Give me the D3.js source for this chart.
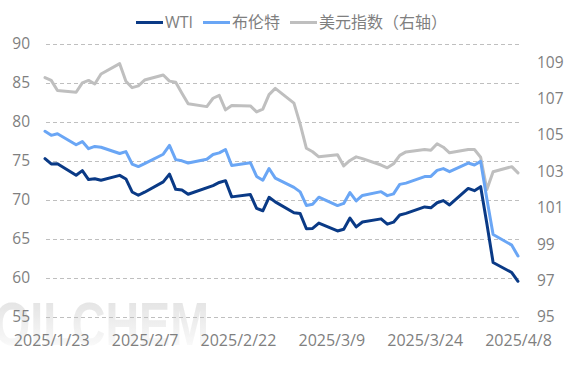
<!DOCTYPE html>
<html>
<head>
<meta charset="utf-8">
<script src="https://cdn.jsdelivr.net/npm/d3@7"></script>
<style>
    body { margin: 0; background: #fff; }
    svg { display: block; }
    text { font-family: "Open Sans", "Noto Sans CJK SC", sans-serif; }
</style>
</head>
<body>
<div id="chart"></div>
<script>
// Trading days shown on the chart
var dates = [
    "2025-01-22", "2025-01-23", "2025-01-24", "2025-01-27", "2025-01-28", "2025-01-29", "2025-01-30", "2025-01-31",
    "2025-02-03", "2025-02-04", "2025-02-05", "2025-02-06", "2025-02-07", "2025-02-10", "2025-02-11", "2025-02-12",
    "2025-02-13", "2025-02-14", "2025-02-17", "2025-02-18", "2025-02-19", "2025-02-20", "2025-02-21", "2025-02-24",
    "2025-02-25", "2025-02-26", "2025-02-27", "2025-02-28",
    "2025-03-03", "2025-03-04", "2025-03-05", "2025-03-06", "2025-03-07", "2025-03-10", "2025-03-11", "2025-03-12",
    "2025-03-13", "2025-03-14", "2025-03-17", "2025-03-18", "2025-03-19", "2025-03-20", "2025-03-21", "2025-03-24",
    "2025-03-25", "2025-03-26", "2025-03-27", "2025-03-28", "2025-03-31",
    "2025-04-01", "2025-04-02", "2025-04-03", "2025-04-04", "2025-04-07", "2025-04-08"
];

// WTI (left axis), null = no settlement that day
var wti = [
    75.3, 74.62, 74.66, 73.17, 73.77, 72.62, 72.73, 72.53,
    73.16, 72.70, 71.03, 70.61, 71.00, 72.32, 73.32, 71.37,
    71.29, 70.74, null, 71.85, 72.25, 72.48, 70.40, 70.70,
    68.93, 68.62, 70.35, 69.76,
    68.37, 68.26, 66.31, 66.36, 67.04, 66.03, 66.25, 67.68,
    66.55, 67.18, 67.58, 66.90, 67.16, 68.07, 68.28, 69.11,
    69.00, 69.65, 69.92, 69.36, 71.48,
    71.20, 71.71, 66.95, 61.99, 60.70, 59.58
];

// Brent (left axis)
var brent = [
    78.8, 78.29, 78.50, 77.08, 77.49, 76.58, 76.87, 76.76,
    75.96, 76.20, 74.61, 74.29, 74.66, 75.87, 77.00, 75.18,
    75.02, 74.74, 75.22, 75.84, 76.04, 76.48, 74.43, 74.78,
    73.02, 72.53, 74.04, 72.81,
    71.62, 71.04, 69.30, 69.46, 70.36, 69.28, 69.56, 70.95,
    69.88, 70.58, 71.07, 70.56, 70.78, 72.00, 72.16, 73.00,
    73.02, 73.79, 74.03, 73.63, 74.74,
    74.49, 74.95, 70.14, 65.58, 64.21, 62.82
];

// Dollar index (right axis)
var dxy = [
    108.15, 108.0, 107.44, 107.35, 107.86, 108.0, 107.8, 108.35,
    108.92, 107.95, 107.6, 107.7, 108.02, 108.3, 107.96, 107.9,
    107.3, 106.72, 106.56, 107.02, 107.18, 106.38, 106.62, 106.6,
    106.27, 106.42, 107.22, 107.56,
    106.75, 105.6, 104.27, 104.08, 103.8, 103.92, 103.3, 103.6,
    103.8, 103.7, 103.35, 103.2, 103.42, 103.88, 104.07, 104.2,
    104.16, 104.52, 104.33, 104.02, 104.2,
    104.2, 103.78, 102.0, 102.98, 103.26, 102.92
];

var xTickDates = ["2025-01-23", "2025-02-07", "2025-02-22", "2025-03-09", "2025-03-24", "2025-04-08"];
var leftTicks = [55, 60, 65, 70, 75, 80, 85, 90];
var rightTicks = [95, 97, 99, 101, 103, 105, 107, 109];
var seriesNames = ["WTI", "布伦特", "美元指数（右轴）"];

var width = 567, height = 378;
var plotLeft = 46, plotRight = 520, plotTop = 44, plotBottom = 317;
var textColor = "#7f7f7f";
var colors = ["#0a3a86", "#6aa6f5", "#bfbfbf"];

var parseDate = d3.timeParse("%Y-%m-%d");
var dateObjs = dates.map(parseDate);

var svg = d3.select("#chart").append("svg")
    .attr("width", width)
    .attr("height", height);

// Watermark in the lower left corner
var defs = svg.append("defs");
var grad = defs.append("linearGradient")
    .attr("id", "wmGrad")
    .attr("x1", 0).attr("y1", 0).attr("x2", 0).attr("y2", 1);
grad.append("stop").attr("offset", "0%").attr("stop-color", "#d4d4d4");
grad.append("stop").attr("offset", "100%").attr("stop-color", "#ffffff");

svg.append("text")
    .attr("x", -6)
    .attr("y", 345)
    .attr("font-size", 62)
    .attr("font-weight", "bold")
    .attr("textLength", 215)
    .attr("lengthAdjust", "spacingAndGlyphs")
    .attr("fill", "url(#wmGrad)")
    .attr("opacity", 0.75)
    .style("font-family", "'Liberation Sans', Arial, sans-serif")
    .text("OILCHEM");

// Scales
var x = d3.scaleTime()
    .domain([parseDate("2025-01-22"), parseDate("2025-04-08")])
    .range([45, 518]);

var yLeft = d3.scaleLinear()
    .domain([55, 90])
    .range([plotBottom, plotTop]);

var yRight = d3.scaleLinear()
    .domain([95, 110])
    .range([plotBottom, plotTop]);

// Left axis + dashed gridlines
var leftAxis = svg.append("g")
    .attr("transform", `translate(${plotLeft}, 0)`)
    .call(d3.axisLeft(yLeft)
        .tickValues(leftTicks)
        .tickSize(-(plotRight - plotLeft))
        .tickPadding(16));
leftAxis.select(".domain").remove();
leftAxis.selectAll("line")
    .attr("stroke", "#bfbfbf")
    .attr("stroke-width", 1)
    .attr("stroke-dasharray", "4,3");
leftAxis.selectAll("text")
    .attr("fill", textColor)
    .attr("font-size", 15.5);

// Right axis
var rightAxis = svg.append("g")
    .attr("transform", `translate(${plotRight}, 0)`)
    .call(d3.axisRight(yRight)
        .tickValues(rightTicks)
        .tickSize(0)
        .tickPadding(17));
rightAxis.select(".domain").remove();
rightAxis.selectAll("text")
    .attr("fill", textColor)
    .attr("font-size", 15.5);

// Bottom axis (dates)
var fmt = d3.timeFormat("%Y/%-m/%-d");
var bottomAxis = svg.append("g")
    .attr("transform", `translate(0, ${plotBottom})`)
    .call(d3.axisBottom(x)
        .tickValues(xTickDates.map(parseDate))
        .tickFormat(fmt)
        .tickSize(0)
        .tickPadding(18));
bottomAxis.select(".domain").remove();
bottomAxis.selectAll("text")
    .attr("fill", textColor)
    .attr("font-size", 16);

// Lines
function lineFor(values, yScale) {
    var pts = [];
    values.forEach(function (v, i) {
        if (v !== null) pts.push([dateObjs[i], v]);
    });
    var gen = d3.line()
        .x(d => x(d[0]))
        .y(d => yScale(d[1]));
    return gen(pts);
}

var series = [
    { values: dxy, scale: yRight, color: colors[2] },
    { values: brent, scale: yLeft, color: colors[1] },
    { values: wti, scale: yLeft, color: colors[0] }
];

series.forEach(function (s) {
    svg.append("path")
        .attr("d", lineFor(s.values, s.scale))
        .attr("fill", "none")
        .attr("stroke", s.color)
        .attr("stroke-width", 3)
        .attr("stroke-linejoin", "round")
        .attr("stroke-linecap", "round");
});

// Legend
var legendLineX = [136, 203, 290];
var legend = svg.append("g");
seriesNames.forEach(function (name, i) {
    legend.append("line")
        .attr("x1", legendLineX[i])
        .attr("x2", legendLineX[i] + 27)
        .attr("y1", 22.5)
        .attr("y2", 22.5)
        .attr("stroke", colors[i])
        .attr("stroke-width", 3);
    legend.append("text")
        .attr("x", legendLineX[i] + 29)
        .attr("y", 22.5)
        .attr("dy", "0.35em")
        .attr("fill", textColor)
        .attr("font-size", 16)
        .text(name);
});
</script>
</body>
</html>
